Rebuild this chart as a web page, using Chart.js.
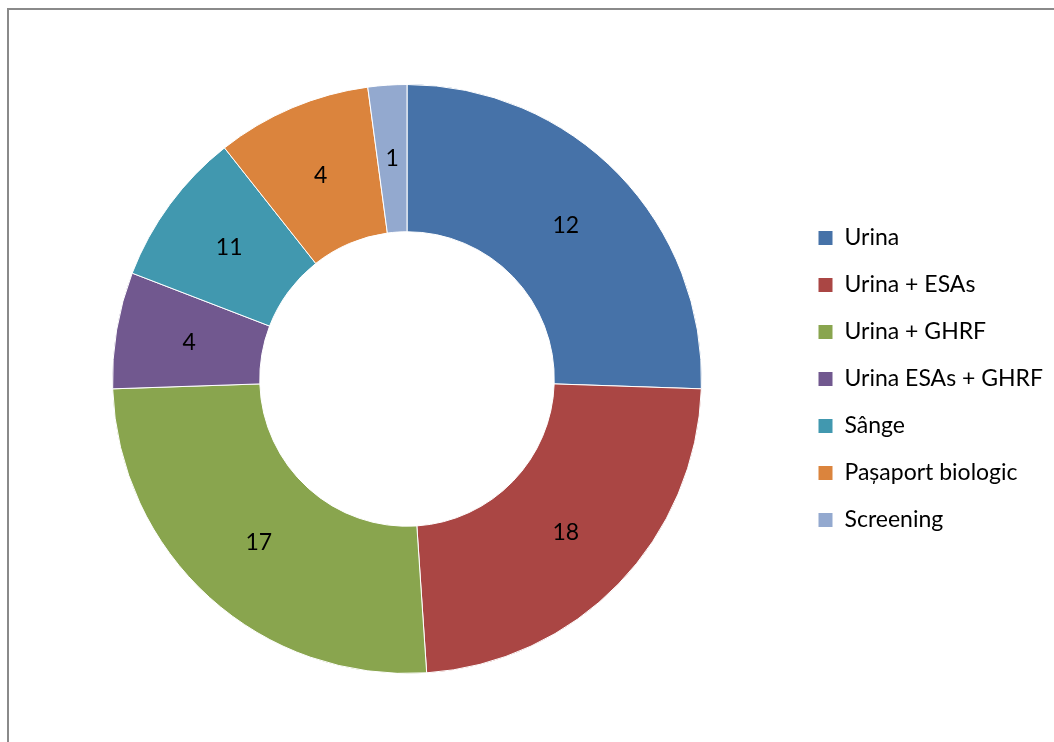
<!DOCTYPE html>
<html>
<head>
<meta charset="utf-8">
<script src="https://cdn.jsdelivr.net/npm/chart.js@4/dist/chart.umd.min.js"></script>
<style>
    body { margin: 0; background: #fff; }
    #frame { position: absolute; left: 7px; top: 8px; width: 1100px; height: 800px; border-left: 2px solid #8a8a8a; border-top: 2px solid #8a8a8a; }
    #wrap { position: absolute; left: 0; top: 0; width: 1054px; height: 742px; }
</style>
</head>
<body>
<div id="frame"></div>
<div id="wrap"><canvas id="tipuriChart"></canvas></div>
<script>
const categorii = ['Urina', 'Urina + ESAs', 'Urina + GHRF', 'Urina ESAs + GHRF', 'Sânge', 'Pașaport biologic', 'Screening'];
const valori = [12, 11, 12, 3, 4, 4, 1];
const etichete = ['12', '18', '17', '4', '11', '4', '1'];
const culori = ['#4672A8', '#AA4644', '#89A54E', '#71588F', '#4198AF', '#DB843D', '#93A9CF'];

// etichete pe felii
const eticheteFelii = {
    id: 'eticheteFelii',
    afterDatasetsDraw(chart) {
        const ctx = chart.ctx;
        ctx.save();
        ctx.font = '23px Lato';
        ctx.fillStyle = '#000';
        ctx.textAlign = 'center';
        ctx.textBaseline = 'middle';
        chart.getDatasetMeta(0).data.forEach((arc, i) => {
            const p = arc.tooltipPosition();
            ctx.fillText(etichete[i], p.x, p.y);
        });
        ctx.restore();
    }
};

const ctxTipuri = document.getElementById('tipuriChart');
new Chart(ctxTipuri, {
    type: 'doughnut',
    data: {
        labels: categorii,
        datasets: [{
            data: valori,
            backgroundColor: culori,
            borderColor: '#fff',
            borderWidth: 1
        }]
    },
    options: {
        responsive: true,
        maintainAspectRatio: false,
        animation: false,
        cutout: '50%',
        layout: { padding: { left: 20, right: 1, top: 84, bottom: 68 } },
        plugins: {
            legend: {
                position: 'right',
                labels: {
                    boxWidth: 15,
                    boxHeight: 15,
                    padding: 24,
                    color: '#000',
                    font: { family: 'Lato', size: 23 }
                }
            },
            tooltip: { enabled: false }
        }
    },
    plugins: [eticheteFelii]
});
</script>
</body>
</html>
